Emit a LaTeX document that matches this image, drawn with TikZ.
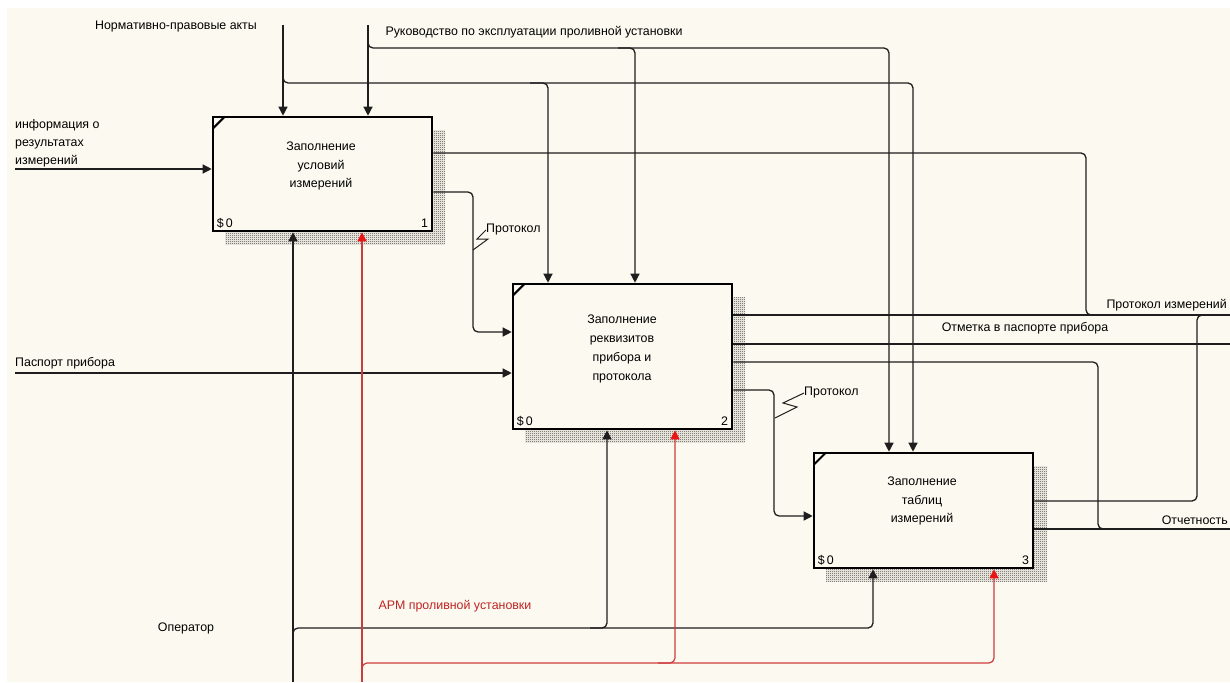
\documentclass[tikz,border=0pt]{standalone}
\usepackage{fontspec}
\setmainfont{Liberation Sans}
\usetikzlibrary{arrows.meta,patterns}
\definecolor{paper}{RGB}{252,250,240}
\definecolor{ink}{RGB}{30,30,30}
\definecolor{mechred}{RGB}{205,60,60}
\definecolor{tipred}{RGB}{235,20,20}
\definecolor{armtext}{RGB}{190,35,35}

% fine checker used for the activity box shadows
\pgfdeclarepatternformonly{idefshade}{\pgfpointorigin}{\pgfqpoint{2pt}{2pt}}{\pgfqpoint{2pt}{2pt}}{%
  \pgfpathrectangle{\pgfpointorigin}{\pgfqpoint{1pt}{1pt}}%
  \pgfpathrectangle{\pgfqpoint{1pt}{1pt}}{\pgfqpoint{1pt}{1pt}}%
  \pgfusepath{fill}}

\tikzset{
  wire/.style={draw=ink, line width=1.3pt, rounded corners=5pt},
  arr/.style={wire, -{Triangle[length=9pt,width=9pt]}},
  redarr/.style={draw=mechred, line width=1.2pt, rounded corners=5pt,
                 -{Triangle[length=9pt,width=9pt,color=tipred]}},
  activity/.style={draw=black, line width=2.6pt, fill=paper,
                   minimum width=219pt, inner sep=0pt},
  boxshade/.style={pattern=idefshade, pattern color=black!75},
  boxtext/.style={align=center, inner sep=0pt, font=\fontsize{12.4}{18.7}\selectfont},
  lbl/.style={inner sep=0pt, font=\fontsize{12.4}{18}\selectfont},
  squig/.style={draw=ink, line width=1pt},
}

\begin{document}
\begin{tikzpicture}[x=1pt, y=-1pt]
  % page and paper
  \fill[white] (0,0) rectangle (1230,682);
  \fill[paper] (7,8) rectangle (1230,682);
  \useasboundingbox (0,0) rectangle (1230,682);

  % shadows behind the activity boxes
  \fill[boxshade] (225,130) rectangle (445,244);
  \fill[boxshade] (525,297) rectangle (745,442);
  \fill[boxshade] (826,466) rectangle (1047,581);

  % activity boxes
  \node[activity, minimum height=114pt] (b1) at (322.5,174) {};
  \node[activity, minimum height=145pt] (b2) at (622.5,356.5) {};
  \node[activity, minimum height=115pt] (b3) at (923.5,510.5) {};

  \foreach \b/\n in {b1/1, b2/2, b3/3}{
    \draw[line width=2pt] ([shift={(1pt,-13pt)}]\b.north west) -- ([shift={(13pt,-1pt)}]\b.north west);
    \node[lbl, anchor=base west] (\b dollar) at ([shift={(5pt,5pt)}]\b.south west) {\$\,0};
    \node[lbl, anchor=base east] (\b num) at ([shift={(-5pt,5pt)}]\b.south east) {\n};
  }

  \node[boxtext] (t1) at (321,166) {Заполнение\\условий\\измерений};
  \node[boxtext] (t2) at (622,349) {Заполнение\\реквизитов\\прибора и\\протокола};
  \node[boxtext] (t3) at (922,501) {Заполнение\\таблиц\\измерений};

  % free ends of the boundary arrows
  \coordinate (normTop) at (283,25);
  \coordinate (rukTop) at (368,25);
  \coordinate (infoIn) at (15,169);
  \coordinate (passIn) at (15,373);
  \coordinate (opBot) at (293,682);
  \coordinate (armBot) at (362,682);
  \coordinate (pmOut) at (1230,315);
  \coordinate (markOut) at (1230,344);
  \coordinate (repOut) at (1230,529);

  % labels
  \node[lbl] (norm) at (176,27) {Нормативно-правовые акты};
  \node[lbl] (ruk) at (534,32) {Руководство по эксплуатации проливной установки};
  \node[lbl, anchor=west, align=left] (info) at (15,143) {информация о\\результатах\\измерений};
  \node[lbl, anchor=west] (pass) at (15,363) {Паспорт прибора};
  \node[lbl, anchor=east] (pm) at (1227,305) {Протокол измерений};
  \node[lbl] (mark) at (1025,328) {Отметка в паспорте прибора};
  \node[lbl, anchor=east] (rep) at (1228,520) {Отчетность};
  \node[lbl, anchor=west] (prot1) at (486,230) {Протокол};
  \node[lbl, anchor=west] (prot2) at (804,393) {Протокол};
  \node[lbl] (oper) at (186,628) {Оператор};
  \node[lbl, text=armtext] (arm) at (455,606) {АРМ проливной установки};

  % controls
  \draw[arr] (normTop) -- (normTop |- b1.north);
  \draw[arr] (283,60) |- (913,83) -- (913,0 |- b3.north);
  \draw[arr] (530,83) -| (548,0 |- b2.north);
  \draw[arr] (rukTop) -- (rukTop |- b1.north);
  \draw[arr] (368,35) |- (889,48) -- (889,0 |- b3.north);
  \draw[arr] (618,48) -| (635,0 |- b2.north);

  % inputs
  \draw[arr] (infoIn) -- (b1.west |- infoIn);
  \draw[arr] (passIn) -- (b2.west |- passIn);

  % outputs
  \draw[wire] (b1.east |- 0,153) -| (1086,315) -- (1110,315);
  \draw[wire] (b2.east |- pmOut) -- (pmOut);
  \draw[wire] (b3.east |- 0,501) -| (1197,315) -- (1215,315);
  \draw[wire] (b2.east |- markOut) -- (markOut);
  \draw[wire] (b2.east |- 0,362) -| (1098,529) -- (1120,529);
  \draw[wire] (b3.east |- repOut) -- (repOut);
  \draw[arr] (b1.east |- 0,192) -| (473,332) -- (b2.west |- 0,332);
  \draw[arr] (b2.east |- 0,390) -| (774,516) -- (b3.west |- 0,516);

  % squiggles tying the Протокол labels to their arrows
  \draw[squig] (prot1.west) -- (477,239) -- (488,239) -- (473,250);
  \draw[squig] (prot2.west) -- (783,403) -- (797,407) -- (775,418);

  % mechanisms
  \draw[arr] (opBot) -- (opBot |- b1.south);
  \draw[arr] (293,660) |- (873,628) -- (873,0 |- b3.south);
  \draw[arr] (590,628) -| (607,0 |- b2.south);
  \draw[redarr] (armBot) -- (armBot |- b1.south);
  \draw[redarr] (362,675) |- (994,663) -- (994,0 |- b3.south);
  \draw[redarr] (658,663) -| (675,0 |- b2.south);
\end{tikzpicture}
\end{document}
